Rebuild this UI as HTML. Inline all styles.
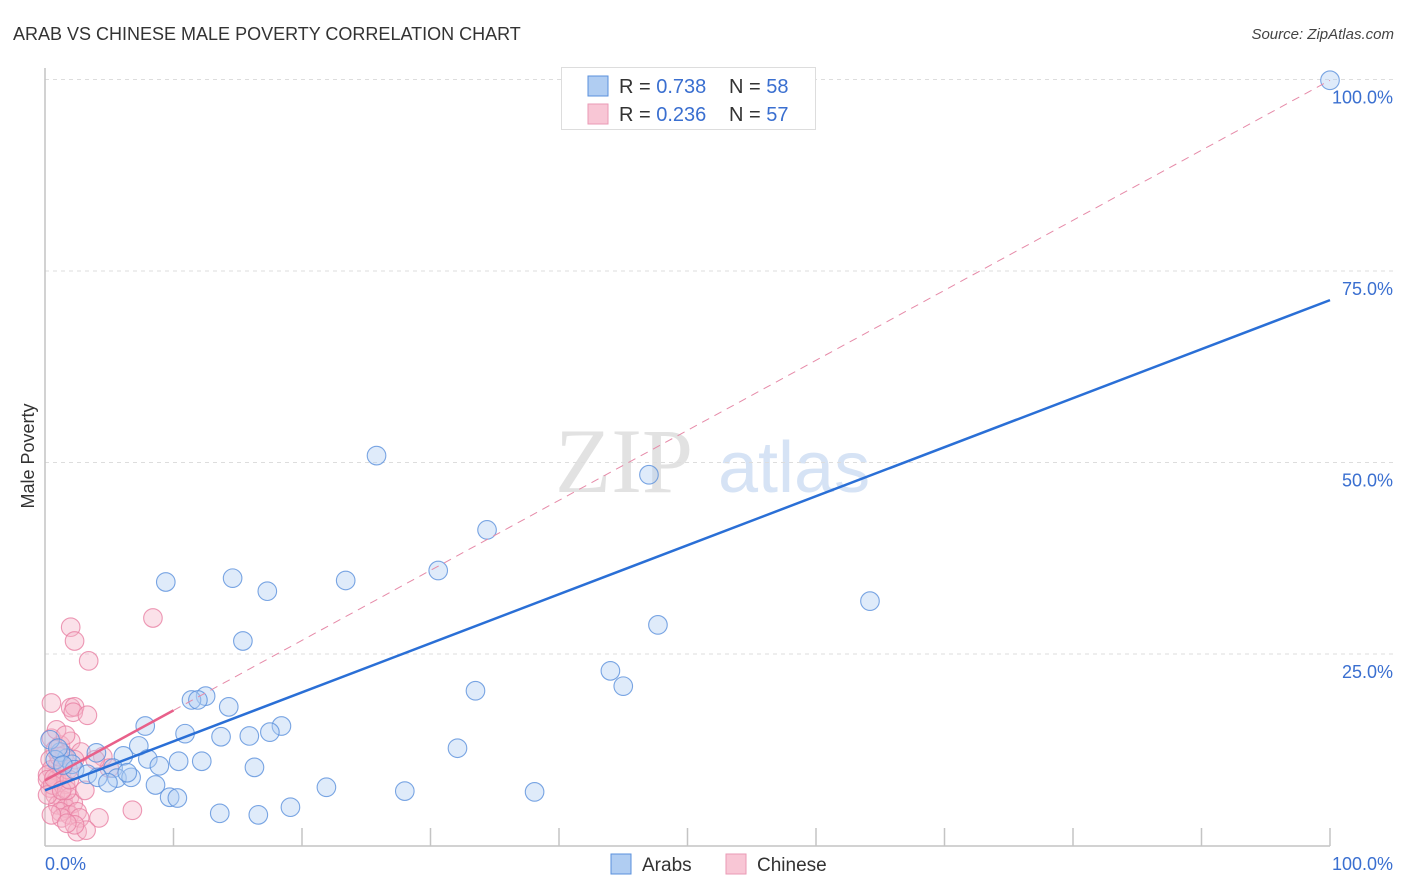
<!DOCTYPE html>
<html><head><meta charset="utf-8">
<style>
body{margin:0;width:1406px;height:892px;background:#fff;font-family:"Liberation Sans",sans-serif;overflow:hidden}
svg{position:absolute;left:0;top:0}
</style></head>
<body>
<svg id="chart" width="1406" height="892"></svg>
<script>
const arabX=[100,25.8,47.0,34.4,30.6,23.4,14.6,9.4,17.3,64.2,47.7,15.4,44.0,45.0,33.5,12.5,11.4,11.9,14.3,7.8,18.4,17.5,10.9,13.7,15.9,7.3,32.1,4.0,6.1,8.0,10.4,12.2,8.9,16.3,5.3,1.7,1.2,0.8,2.1,2.3,3.3,4.1,5.6,6.7,6.4,4.9,8.6,21.9,28.0,38.1,9.7,10.3,19.1,13.6,16.6,0.4,1.0,1.4];
const arabY=[99.9,50.9,48.4,41.2,35.9,34.6,34.9,34.4,33.2,31.9,28.8,26.7,22.8,20.8,20.2,19.5,19.0,19.0,18.1,15.6,15.6,14.8,14.6,14.2,14.3,13.0,12.7,12.1,11.7,11.3,11.0,11.0,10.4,10.2,10.1,11.4,12.2,11.2,10.6,9.9,9.3,8.9,8.8,8.9,9.5,8.2,7.9,7.6,7.1,7.0,6.3,6.2,5.0,4.2,4.0,13.8,12.7,10.5];
const chineseX=[8.4,2.0,2.3,3.4,0.5,2.0,2.3,2.2,3.3,0.5,1.2,2.0,0.8,1.5,0.4,1.0,0.5,1.3,0.2,0.9,1.6,0.4,0.8,1.4,1.9,1.0,1.6,2.2,1.2,1.9,2.5,1.3,2.7,4.2,2.5,3.2,6.8,4.5,5.0,0.2,0.6,1.7,0.9,1.6,2.8,2.3,3.1,0.2,1.1,1.8,0.7,1.3,1.9,2.3,0.5,1.7,3.9];
const chineseY=[29.7,28.5,26.7,24.1,18.6,18.0,18.1,17.4,17.0,14.0,13.1,13.6,12.5,11.8,11.2,10.5,9.9,9.6,9.2,8.6,8.0,7.5,6.6,5.9,6.3,5.3,4.9,5.5,4.4,4.0,4.4,3.6,3.6,3.6,1.8,2.0,4.6,11.6,10.1,8.6,7.9,7.2,15.1,14.4,12.2,11.2,7.2,6.6,11.6,9.9,8.8,7.2,8.6,2.7,4.0,2.9,11.2];
const arabFit=[7.2,0.64];
const chineseFit=[8.5,0.914];
const yTicks=[25,50,75,100];
const yTickLabels=["25.0%","50.0%","75.0%","100.0%"];

const NS="http://www.w3.org/2000/svg";
const svg=document.getElementById('chart');
const X0=45,X1=1330,Y0=845.5,Y1=79.5;
const sx=v=>X0+(X1-X0)*v/100;
const sy=v=>Y0-(Y0-Y1)*v/100;
function mk(tag,attrs,parent){const e=document.createElementNS(NS,tag);for(const k in attrs)e.setAttribute(k,attrs[k]);(parent||svg).appendChild(e);return e;}

let t=mk('text',{x:13,y:40,'font-size':18,fill:'#333'});t.textContent="ARAB VS CHINESE MALE POVERTY CORRELATION CHART";


t=mk('text',{x:1394,y:39,'font-size':15,fill:'#444','text-anchor':'end','font-style':'italic'});t.textContent="Source: ZipAtlas.com";



t=mk('text',{x:555,y:492,'font-size':92,fill:'#e2e2e2','font-family':'Liberation Serif'});t.textContent="ZIP";


t=mk('text',{x:718,y:492,'font-size':72,fill:'#d6e3f5'});t.textContent="atlas";



yTicks.forEach((v,i)=>{
  const g=mk('line',{x1:X0,x2:1395,y1:sy(v),y2:sy(v),stroke:'#ddd','stroke-dasharray':'4,4'});
  
  
  const l=mk('text',{x:1393,y:sy(v)+24,'font-size':18,fill:'#3a6fd0','text-anchor':'end'});
  l.textContent=yTickLabels[i];
  
  
});
let a=mk('line',{x1:X0,x2:X0,y1:68,y2:846,stroke:'#c4c4c4','stroke-width':1.5});


a=mk('line',{x1:X0,x2:X1,y1:846,y2:846,stroke:'#c4c4c4','stroke-width':1.5});


for(let i=1;i<=10;i++){
  const tk=mk('line',{x1:sx(i*10),x2:sx(i*10),y1:828,y2:846,stroke:'#c4c4c4','stroke-width':1.5});
  
  
}
t=mk('text',{x:45,y:870,'font-size':18,fill:'#3a6fd0'});t.textContent="0.0%";


t=mk('text',{x:1393,y:870,'font-size':18,fill:'#3a6fd0','text-anchor':'end'});t.textContent="100.0%";


t=mk('text',{x:34,y:456,'font-size':18,fill:'#333','text-anchor':'middle',transform:'rotate(-90 34 456)'});t.textContent="Male Poverty";



function pts(xs,ys,fill,stroke,name){
  xs.forEach((x,i)=>{
    const c=mk('circle',{cx:sx(x),cy:sy(ys[i]),r:9.3,fill:fill,'fill-opacity':0.4,stroke:stroke,'stroke-width':1.1,'stroke-opacity':0.8});
    
    
  });
}
pts(chineseX,chineseY,'#f5b3c8','#e87fa2','chinese-point');
pts(arabX,arabY,'#b0cdf2','#5a90dc','arab-point');

let ln=mk('line',{x1:sx(10),y1:sy(chineseFit[0]+chineseFit[1]*10),x2:sx(100),y2:sy(chineseFit[0]+chineseFit[1]*100),stroke:'#e68aa8','stroke-width':1,'stroke-dasharray':'8,6'});


ln=mk('line',{x1:sx(0),y1:sy(chineseFit[0]),x2:sx(10),y2:sy(chineseFit[0]+chineseFit[1]*10),stroke:'#e8608a','stroke-width':2.5});


ln=mk('line',{x1:sx(0),y1:sy(arabFit[0]),x2:sx(100),y2:sy(arabFit[0]+arabFit[1]*100),stroke:'#2a6fd6','stroke-width':2.5});



const lg=mk('g',{});


mk('rect',{x:561.5,y:67.5,width:254,height:62,fill:'#fff',stroke:'#ddd'},lg);
[[0,'#b0cdf2','#5a90dc','0.738','58'],[1,'#f8c6d5','#ea9ab5','0.236','57']].forEach(r=>{
  const y=76+r[0]*28;
  mk('rect',{x:588,y:y,width:20,height:20,fill:r[1],stroke:r[2]},lg);
  const tx=mk('text',{x:619,y:y+17,'font-size':20,fill:'#333'},lg);
  tx.innerHTML='R = <tspan fill="#3a6fd0">'+r[3]+'</tspan><tspan x="729">N = </tspan><tspan fill="#3a6fd0">'+r[4]+'</tspan>';
});

const bl=mk('g',{});


mk('rect',{x:611,y:854,width:20,height:20,fill:'#b0cdf2',stroke:'#5a90dc'},bl);
t=mk('text',{x:642,y:871,'font-size':19,fill:'#333'},bl);t.textContent="Arabs";
mk('rect',{x:726,y:854,width:20,height:20,fill:'#f8c6d5',stroke:'#ea9ab5'},bl);
t=mk('text',{x:757,y:871,'font-size':19,fill:'#333'},bl);t.textContent="Chinese";
</script>
</body></html>
